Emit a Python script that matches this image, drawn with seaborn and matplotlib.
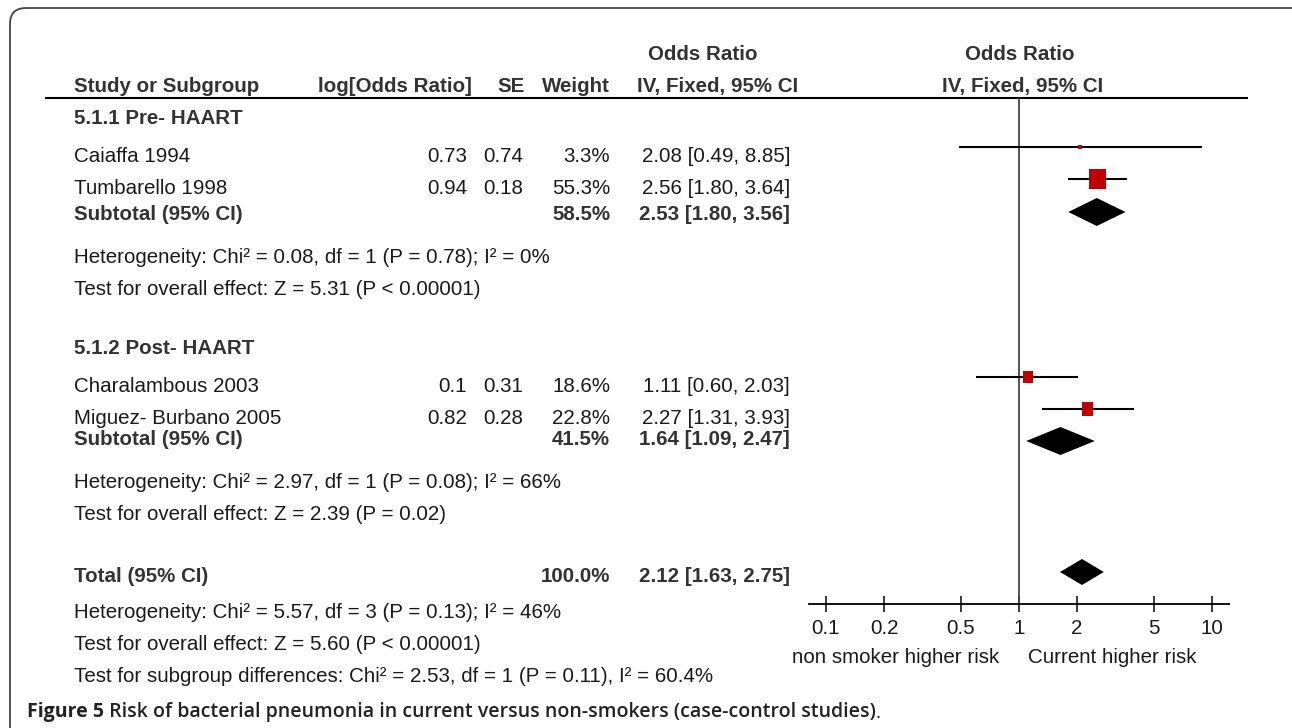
import numpy as np
import pandas as pd
import seaborn as sns
import matplotlib.pyplot as plt
from matplotlib.patches import FancyBboxPatch, Rectangle
from matplotlib.ticker import FixedFormatter, NullLocator

# ---- data ----
subgroups = ["5.1.1 Pre- HAART", "5.1.2 Post- HAART"]
studies = ["Caiaffa 1994", "Tumbarello 1998", "Charalambous 2003", "Miguez- Burbano 2005"]
log_or = [0.73, 0.94, 0.1, 0.82]
se = [0.74, 0.18, 0.31, 0.28]
weight = [3.3, 55.3, 18.6, 22.8]
odds = [2.08, 2.56, 1.11, 2.27]
ci_lo = [0.49, 1.80, 0.60, 1.31]
ci_hi = [8.85, 3.64, 2.03, 3.93]

sub_weight = [58.5, 41.5]
sub_odds = [2.53, 1.64]
sub_lo = [1.80, 1.09]
sub_hi = [3.56, 2.47]
sub_het = ["Heterogeneity: Chi² = 0.08, df = 1 (P = 0.78); I² = 0%",
           "Heterogeneity: Chi² = 2.97, df = 1 (P = 0.08); I² = 66%"]
sub_test = ["Test for overall effect: Z = 5.31 (P < 0.00001)",
            "Test for overall effect: Z = 2.39 (P = 0.02)"]

total_weight = 100.0
total_odds = 2.12
total_lo = 1.63
total_hi = 2.75
total_notes = ["Heterogeneity: Chi² = 5.57, df = 3 (P = 0.13); I² = 46%",
               "Test for overall effect: Z = 5.60 (P < 0.00001)",
               "Test for subgroup differences: Chi² = 2.53, df = 1 (P = 0.11), I² = 60.4%"]

ticks = [0.1, 0.2, 0.5, 1, 2, 5, 10]
tick_labels = ["0.1", "0.2", "0.5", "1", "2", "5", "10"]
side_labels = ["non smoker higher risk", "Current higher risk"]

# ---- style ----
sns.set_theme(style="white", rc={"figure.facecolor": "white", "axes.facecolor": "none"})
plt.rcParams["font.family"] = ["Liberation Sans", "DejaVu Sans"]

FS = 14.8
DARK = "#1a1a1a"
BOLD = "#333333"
CAP_FONT = ["Open Sans", "DejaVu Sans"]

W, H = 1292, 728
fig = plt.figure(figsize=(W / 100, H / 100), dpi=100)
ax = fig.add_axes([0, 0, 1, 1])
ax.set_xlim(0, W)
ax.set_ylim(H, 0)
ax.axis("off")

# frame
ax.add_patch(FancyBboxPatch((10, 8), 1310, 740, boxstyle="round,pad=0,rounding_size=16",
                            fc="none", ec="#444444", lw=1.3))

def txt(x, y, s, ha="left", bold=False, **kw):
    return ax.text(x, y, s, ha=ha, va="baseline", fontsize=FS,
                   fontweight="bold" if bold else "normal",
                   color=BOLD if bold else DARK, **kw)

# column positions
name_x, log_r, se_r, w_r, ci_r = 74, 467, 523, 610, 790

# header
txt(703, 60, "Odds Ratio", ha="center", bold=True)
txt(1020, 60, "Odds Ratio", ha="center", bold=True)
txt(name_x, 92, "Study or Subgroup", bold=True)
txt(472, 92, "log[Odds Ratio]", ha="right", bold=True)
txt(525, 92, "SE", ha="right", bold=True)
txt(w_r, 92, "Weight", ha="right", bold=True)
txt(718, 92, "IV, Fixed, 95% CI", ha="center", bold=True)
txt(1023, 92, "IV, Fixed, 95% CI", ha="center", bold=True)
ax.plot([45, 1248], [98, 98], color="black", lw=1.5, solid_capstyle="butt")

# row baselines (layout)
group_header_y = [124, 354]
study_y = [162, 194, 392, 424]
sub_y = [220, 445]
het_y = [263, 488]
test_y = [295, 520]
total_y = 582
notes_y = [618, 650, 682]

fmt_ci = lambda o, l, h: f"{o:.2f} [{l:.2f}, {h:.2f}]"

for g in range(2):
    txt(name_x, group_header_y[g], subgroups[g], bold=True)
    txt(name_x, sub_y[g], "Subtotal (95% CI)", bold=True)
    txt(w_r, sub_y[g], f"{sub_weight[g]:.1f}%", ha="right", bold=True)
    txt(ci_r, sub_y[g], fmt_ci(sub_odds[g], sub_lo[g], sub_hi[g]), ha="right", bold=True)
    txt(name_x, het_y[g], sub_het[g])
    txt(name_x, test_y[g], sub_test[g])

for i, s in enumerate(studies):
    y = study_y[i]
    txt(name_x, y, s)
    txt(log_r, y, f"{log_or[i]:g}", ha="right")
    txt(se_r, y, f"{se[i]:.2f}", ha="right")
    txt(w_r, y, f"{weight[i]:.1f}%", ha="right")
    txt(ci_r, y, fmt_ci(odds[i], ci_lo[i], ci_hi[i]), ha="right")

txt(name_x, total_y, "Total (95% CI)", bold=True)
txt(w_r, total_y, f"{total_weight:.1f}%", ha="right", bold=True)
txt(ci_r, total_y, fmt_ci(total_odds, total_lo, total_hi), ha="right", bold=True)
# the last note is cut off at the bottom of the table image
clip = Rectangle((0, 0), W, 686, transform=ax.transData)
for y, s in zip(notes_y, total_notes):
    t = txt(name_x, y, s)
    t.set_clip_path(clip)

# caption
cap = dict(fontsize=14, color="#222222", family=CAP_FONT)
c1 = ax.text(27, 717, "Figure 5", fontweight="bold", va="baseline", **cap)
c2 = ax.annotate(" Risk of bacterial pneumonia in current versus non-smokers (case-control studies)",
                 xy=(1, 0), xycoords=c1, va="bottom", fontweight="semibold", **cap)
ax.annotate(".", xy=(1, 0), xycoords=c2, va="bottom", **cap)

# ---- forest panel: log axis from 809 to 1229 px, centred on OR = 1 at 1019 px ----
x0, x1, xc, decade = 809, 1229, 1019, 193
fx = fig.add_axes([x0 / W, 0, (x1 - x0) / W, 1])
fx.set_xscale("log")
fx.set_xlim(10 ** (-(xc - x0) / decade), 10 ** ((x1 - xc) / decade))
fx.set_ylim(H, 0)
fx.patch.set_alpha(0)
for side in ["top", "left", "right"]:
    fx.spines[side].set_visible(False)
fx.spines["bottom"].set_position(("data", 604))
fx.spines["bottom"].set_linewidth(1.3)
fx.spines["bottom"].set_color("black")
fx.set_yticks([])
fx.set_xticks(ticks)
fx.xaxis.set_minor_locator(NullLocator())
fx.xaxis.set_major_formatter(FixedFormatter(tick_labels))
fx.tick_params(axis="x", direction="inout", length=12, width=1.2, pad=5,
               labelsize=FS, colors=DARK, bottom=True)

fx.vlines(1, 98, 604, color="#444444", lw=1.3)

# study CIs and weighted boxes
mark_y = [y - 15 for y in study_y]
fx.hlines(mark_y, ci_lo, ci_hi, color="black", lw=1.5)
df = pd.DataFrame({"odds": odds, "y": mark_y, "weight": weight})
box_h_pt = 2.75 * np.sqrt(df["weight"]) * 0.72
rect_marker = [(-0.42, -0.5), (0.42, -0.5), (0.42, 0.5), (-0.42, 0.5)]
sns.scatterplot(data=df, x="odds", y="y", ax=fx, s=box_h_pt ** 2, color="#c00000",
                marker=rect_marker, linewidth=0, legend=False, zorder=3)

# pooled diamonds
dia_y = [212, 441]
for g in range(2):
    yc = dia_y[g]
    fx.fill([sub_lo[g], sub_odds[g], sub_hi[g], sub_odds[g]], [yc, yc - 14, yc, yc + 14],
            color="black", lw=0)
fx.fill([total_lo, total_odds, total_hi, total_odds], [572, 559, 572, 585], color="black", lw=0)
fx.set_xlabel("")
fx.set_ylabel("")

txt(896, 663, side_labels[0], ha="center")
txt(1112, 663, side_labels[1], ha="center")

fig.savefig("out.png", dpi=100)
